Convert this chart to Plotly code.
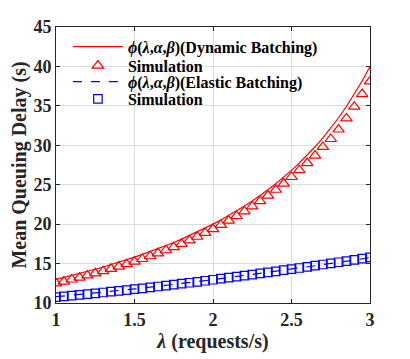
import plotly.graph_objects as go

# arrival rate (requests/s)
lam = [1.00, 1.05, 1.10, 1.15, 1.20, 1.25, 1.30, 1.35, 1.40, 1.45,
       1.50, 1.55, 1.60, 1.65, 1.70, 1.75, 1.80, 1.85, 1.90, 1.95,
       2.00, 2.05, 2.10, 2.15, 2.20, 2.25, 2.30, 2.35, 2.40, 2.45,
       2.50, 2.55, 2.60, 2.65, 2.70, 2.75, 2.80, 2.85, 2.90, 2.95, 3.00]

# dynamic batching: analysis and simulation
dyn_theory = [13.00, 13.24, 13.49, 13.74, 14.01, 14.28, 14.57, 14.86, 15.17, 15.49,
              15.82, 16.16, 16.52, 16.89, 17.28, 17.68, 18.10, 18.55, 19.01, 19.49,
              20.00, 20.53, 21.09, 21.67, 22.29, 22.94, 23.63, 24.36, 25.13, 25.95,
              26.82, 27.75, 28.74, 29.81, 30.94, 32.17, 33.49, 34.92, 36.46, 38.15, 39.99]
dyn_sim = [12.50, 12.72, 12.98, 13.22, 13.50, 13.76, 14.04, 14.33, 14.62, 14.93,
           15.25, 15.58, 15.93, 16.30, 16.69, 17.08, 17.50, 17.94, 18.40, 18.88,
           19.38, 19.90, 20.45, 21.02, 21.62, 22.25, 22.92, 23.62, 24.36, 25.15,
           25.98, 26.85, 27.75, 28.70, 29.80, 30.80, 32.00, 33.40, 34.90, 36.50, 38.10]

# elastic batching: analysis and simulation
ela_theory = [10.80, 10.89, 10.98, 11.08, 11.17, 11.27, 11.37, 11.47, 11.57, 11.68,
              11.78, 11.89, 12.00, 12.12, 12.23, 12.35, 12.47, 12.59, 12.71, 12.84,
              12.96, 13.09, 13.22, 13.35, 13.48, 13.62, 13.75, 13.89, 14.02, 14.16,
              14.30, 14.44, 14.58, 14.72, 14.87, 15.01, 15.15, 15.30, 15.45, 15.59, 15.74]
ela_sim = [10.75, 10.84, 10.94, 11.03, 11.13, 11.23, 11.33, 11.43, 11.54, 11.64,
           11.75, 11.86, 11.98, 12.09, 12.21, 12.33, 12.45, 12.57, 12.69, 12.82,
           12.95, 13.08, 13.21, 13.34, 13.48, 13.61, 13.75, 13.88, 14.02, 14.16,
           14.30, 14.44, 14.59, 14.73, 14.88, 15.02, 15.17, 15.32, 15.47, 15.63, 15.78]

phi = "<i>ϕ</i>(<i>λ</i>,<i>α</i>,<i>β</i>)"

fig = go.Figure()
fig.add_trace(go.Scatter(x=lam, y=dyn_theory, mode='lines', legend='legend',
                         name="<b>" + phi + "(Dynamic Batching)</b>", showlegend=True,
                         line=dict(color='#ff0000', width=1.2)))
fig.add_trace(go.Scatter(x=lam, y=dyn_sim, mode='markers', legend='legend2',
                         name="<b>Simulation</b>", showlegend=True,
                         marker=dict(symbol='triangle-up-open', size=10, color='#ff0000',
                                     line=dict(width=1.2))))
fig.add_trace(go.Scatter(x=lam, y=ela_theory, mode='lines', legend='legend3',
                         name="<b>" + phi + "(Elastic Batching)</b>", showlegend=True,
                         line=dict(color='#0000ff', width=1.2, dash='dash')))
fig.add_trace(go.Scatter(x=lam, y=ela_sim, mode='markers', legend='legend4',
                         name="<b>Simulation</b>", showlegend=True,
                         marker=dict(symbol='square-open', size=8.5, color='#0000ff',
                                     line=dict(width=1.2))))

axis_font = dict(family="Liberation Serif", size=20, color='#262626')
tick_font = dict(family="Liberation Serif", size=18, color='#262626', weight='bold')


def legend_at(y):
    return dict(x=0.038, y=y, xanchor='left', yanchor='middle',
                bgcolor='rgba(0,0,0,0)', borderwidth=0,
                font=dict(family="Liberation Serif", size=16, color='#000000'),
                itemwidth=50)


# page body adds an 8px margin, so the figure is a bit smaller than the window
fig.update_layout(
    width=402, height=351,
    margin=dict(l=48, r=40, t=19, b=56),
    paper_bgcolor='white', plot_bgcolor='white',
    font=dict(family="Liberation Serif", color='#262626'),
    showlegend=True,
    legend=legend_at(0.9286),
    legend2=legend_at(0.8598),
    legend3=legend_at(0.8018),
    legend4=legend_at(0.7391),
)

fig.update_xaxes(
    range=[1, 3], tickvals=[1, 1.5, 2, 2.5, 3], ticktext=['1', '1.5', '2', '2.5', '3'],
    showgrid=True, gridcolor='#dcdcdc', gridwidth=1,
    showline=True, linecolor='#262626', linewidth=1, mirror='ticks',
    ticks='inside', ticklen=4, tickcolor='#262626', zeroline=False,
    tickfont=tick_font, automargin=False,
    title=dict(text="<b><i>λ</i> (requests/s)</b>", font=axis_font, standoff=1),
)
fig.update_yaxes(
    range=[10, 45], tickvals=[10, 15, 20, 25, 30, 35, 40, 45],
    showgrid=True, gridcolor='#dcdcdc', gridwidth=1,
    showline=True, linecolor='#262626', linewidth=1, mirror='ticks',
    ticks='inside', ticklen=4, tickcolor='#262626', zeroline=False,
    tickfont=tick_font, automargin=False,
    title=dict(text="<b>Mean Queuing Delay (s)</b>", font=axis_font, standoff=2),
)

fig.write_html("out.html")
